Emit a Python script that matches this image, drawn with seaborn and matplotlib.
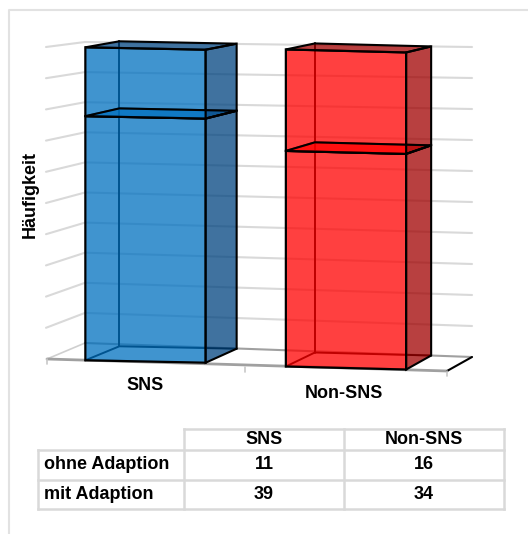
import matplotlib
matplotlib.use("Agg")
import matplotlib.pyplot as plt
import seaborn as sns
from matplotlib.colors import to_rgba
from matplotlib.patches import Polygon
from matplotlib.transforms import Affine2D

# --- data ---
categories = ["SNS", "Non-SNS"]
ohne_adaption = [11, 16]
mit_adaption = [39, 34]
row_labels = ["ohne Adaption", "mit Adaption"]
grid_values = [0, 5, 10, 15, 20, 25, 30, 35, 40, 45, 50]

# --- style ---
W, H = 528, 534
GRID = "#d9d9d9"
FRONT = ["#0070c0", "#ff0000"]
SIDE = ["#00437f", "#a00000"]
# per bar: slope, y scale, y offset (data units) to fake the perspective
SHEAR = [(-0.64, 1.0, 0.0), (-0.80, 1.013, -1.04)]
DEPTH = [(34, 31), (29, 25)]

sns.set_theme(style="white")
plt.rcParams["font.family"] = ["Liberation Sans", "DejaVu Sans"]
plt.rcParams["font.weight"] = "bold"
plt.rcParams["text.color"] = "black"

fig = plt.figure(figsize=(W / 100, H / 100), dpi=100)

# pixel canvas for walls, 3d faces, labels and table
bg = fig.add_axes([0, 0, 1, 1])
bg.set_xlim(0, W)
bg.set_ylim(H, 0)
bg.axis("off")

ax = fig.add_axes([45.25 / W, (H - 361.5) / H, 401 / W, 313 / H], zorder=2)
ax.patch.set_visible(False)

# chart frame
bg.plot([9, 9, W], [H, 10, 10], color="#e2e2e2", lw=1.5)

# --- walls and floor ---
for v in grid_values[1:]:
    y_left = 359 - v * 6.24
    y_back = 343 - v * 6.02
    y_right = 357 - v * 6.2
    bg.plot([46, 85, 472], [y_left, y_back, y_right], color=GRID, lw=1.5, zorder=1)
bg.plot([47, 85], [359, 343], color="#cfcfcf", lw=1.2, zorder=1)
bg.plot([85, 472], [343, 357], color="#a0a0a0", lw=1.5, zorder=1)
bg.plot([47, 447], [359, 371], color="#a0a0a0", lw=2, zorder=1)
bg.plot([447, 472], [371, 357], color="black", lw=1.5, zorder=1)
for tx, ty in [(47, 359), (245, 367), (447, 371)]:
    bg.plot([tx, tx], [ty, ty + 5], color="#c8c8c8", lw=1.2, zorder=1)

# --- bars ---
sns.barplot(x=categories, y=mit_adaption, color=FRONT[0], saturation=1,
            width=0.6, linewidth=1.6, ax=ax, zorder=3)
sns.barplot(x=categories, y=ohne_adaption, bottom=mit_adaption, color=FRONT[0], saturation=1,
            width=0.6, linewidth=1.6, ax=ax, zorder=3)
ax.set_xlim(-0.5, 1.5)
ax.set_ylim(0, 50)
ax.axis("off")


def to_px(trans, x, v):
    px, py = trans.transform((x, v))
    return px, H - py


def depth_dy(v):
    return -14 + 8 * v / 50


for patch in list(ax.patches):
    x0, x1 = patch.get_x(), patch.get_x() + patch.get_width()
    v0, v1 = patch.get_y(), patch.get_y() + patch.get_height()
    i = round((x0 + x1) / 2)
    is_upper = v0 > 0

    slope, yscale, yoff = SHEAR[i]
    aff = Affine2D.from_values(1, slope, 0, yscale, 0, yoff - slope * i)
    trans = aff + ax.transData
    patch.set_transform(trans)
    patch.set_clip_on(False)
    patch.set_facecolor(to_rgba(FRONT[i], 0.75))
    patch.set_edgecolor("black")

    dl, dr = DEPTH[i]
    fl0, fr0 = to_px(trans, x0, v0), to_px(trans, x1, v0)
    fl1, fr1 = to_px(trans, x0, v1), to_px(trans, x1, v1)
    bl0 = (fl0[0] + dl, fl0[1] + depth_dy(v0))
    br0 = (fr0[0] + dr, fr0[1] + depth_dy(v0))
    bl1 = (fl1[0] + dl, fl1[1] + depth_dy(v1))
    br1 = (fr1[0] + dr, fr1[1] + depth_dy(v1))

    # back edges sit behind the transparent front face
    bg.plot([bl0[0], bl1[0]], [bl0[1], bl1[1]], color="black", lw=1.4, zorder=2)
    bg.plot([fl0[0], bl0[0], br0[0]], [fl0[1], bl0[1], br0[1]], color="black", lw=1.4, zorder=2)

    ax.add_patch(Polygon([fr0, br0, br1, fr1], closed=True, facecolor=SIDE[i], alpha=0.75,
                         edgecolor="none", transform=bg.transData, zorder=4, clip_on=False))
    ax.add_patch(Polygon([fr0, br0, br1, fr1], closed=True, fill=False, edgecolor="black",
                         lw=1.5, transform=bg.transData, zorder=5, clip_on=False))
    ax.add_patch(Polygon([fl1, fr1, br1, bl1], closed=True,
                         facecolor=SIDE[i] if is_upper else FRONT[i], alpha=0.75,
                         edgecolor="none", transform=bg.transData, zorder=4, clip_on=False))
    ax.add_patch(Polygon([fl1, fr1, br1, bl1], closed=True, fill=False, edgecolor="black",
                         lw=1.5, transform=bg.transData, zorder=5, clip_on=False))

# --- labels ---
bg.text(145, 386, categories[0], ha="center", va="center", fontsize=13)
bg.text(344, 393, categories[1], ha="center", va="center", fontsize=13)
bg.text(30, 195, "Häufigkeit", rotation=90, ha="center", va="center", fontsize=13)

# --- table ---
xs = [38, 184, 344, 504]
ys = [429, 449.5, 479.5, 509]
tl = dict(color=GRID, lw=1.8, zorder=1, solid_capstyle="projecting")
bg.plot([xs[1], xs[3]], [ys[0], ys[0]], **tl)
for y in ys[1:]:
    bg.plot([xs[0], xs[3]], [y, y], **tl)
bg.plot([xs[0], xs[0]], [ys[1], ys[3]], **tl)
for x in xs[1:]:
    bg.plot([x, x], [ys[0], ys[3]], **tl)

for j, name in enumerate(categories):
    cx = (xs[j + 1] + xs[j + 2]) / 2
    bg.text(cx, (ys[0] + ys[1]) / 2, name, ha="center", va="center", fontsize=13)
    bg.text(cx, (ys[1] + ys[2]) / 2, str(ohne_adaption[j]), ha="center", va="center", fontsize=13)
    bg.text(cx, (ys[2] + ys[3]) / 2, str(mit_adaption[j]), ha="center", va="center", fontsize=13)
for r, name in enumerate(row_labels):
    bg.text(xs[0] + 6, (ys[r + 1] + ys[r + 2]) / 2, name, ha="left", va="center", fontsize=13)

fig.savefig("out.png", dpi=100)
